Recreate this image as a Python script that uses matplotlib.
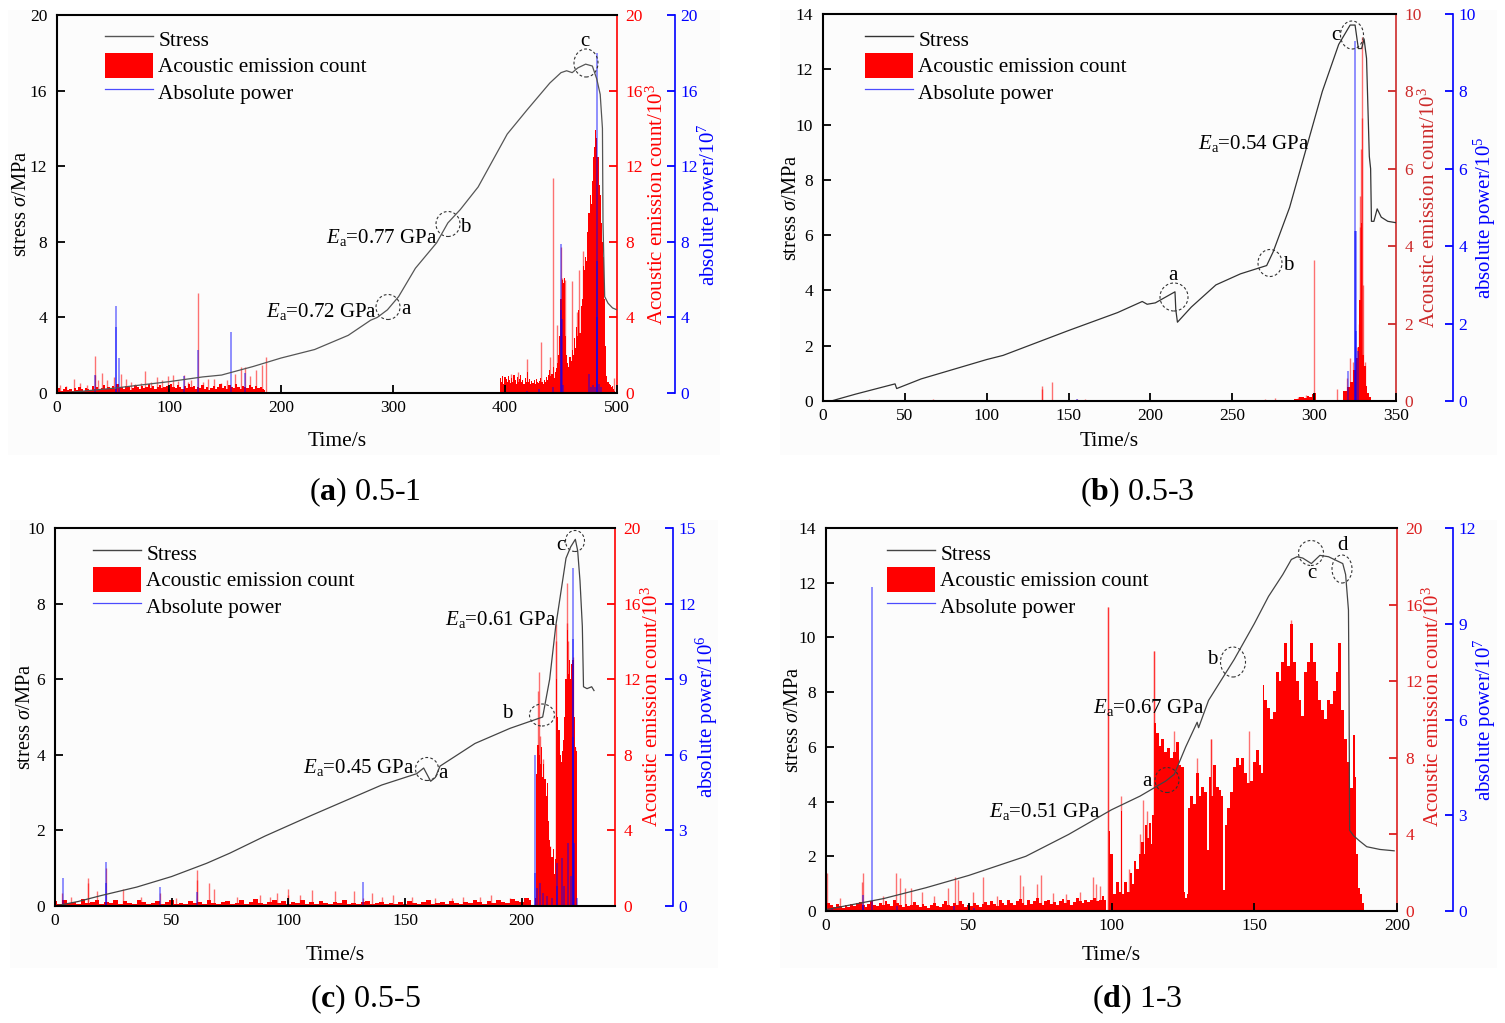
import matplotlib
matplotlib.use('Agg')
import matplotlib.pyplot as plt
from matplotlib.lines import Line2D
from matplotlib.patches import Ellipse, Patch, Rectangle

plt.rcParams['font.family'] = ['Liberation Serif', 'DejaVu Serif']
plt.rcParams['mathtext.fontset'] = 'custom'
plt.rcParams['mathtext.rm'] = 'Liberation Serif'
plt.rcParams['mathtext.it'] = 'Liberation Serif:italic'
plt.rcParams['mathtext.bf'] = 'Liberation Serif:bold'

W = 1505
H = 1023

# (a) 0.5-1
a_time = [0, 20, 50, 100, 130, 147, 150, 175, 200, 230, 260, 280, 286, 295, 305, 320, 339, 349, 360, 376, 402, 420, 440, 450, 455, 460, 465, 472, 478, 482, 485, 487, 487.5, 489, 492, 496, 500]
a_stress = [0, 0.08, 0.25, 0.6, 0.85, 0.95, 1.0, 1.4, 1.85, 2.3, 3.05, 3.85, 4.0, 4.4, 5.1, 6.6, 7.95, 9.0, 9.7, 10.9, 13.7, 15.0, 16.4, 16.95, 17.05, 16.95, 17.2, 17.4, 17.3, 16.6, 15.8, 14, 9, 5.1, 4.75, 4.5, 4.4]
a_base_v = [.15, .25, .1, .2, .3, .15, .2, .1, .25, .15, .3, .2, .1, .25, .2, .15, .35, .2, .3, .15, .25, .4, .2, .3, .25, .35, .2, .45, .25, .3, .2, .35, .3, .15, .25, .4, .3, .2, .35, .25, .3, .45, .25, .35, .2, .3, .4, .25, .3, .35, .2, .45, .3, .25, .4, .3, .2, .35, .25, .45, .3, .35, .2, .3, .25, .4, .2, .3, .15, .25, .35, .2, .3, .45, .25, .35, .2, .4, .3, .25, .45, .3, .2, .35, .3, .25, .4, .3, .2, .35, .25, .3, .2, .15]
a_dense_v = [0, .8, .6, .9, .5, .85, .75, .6, .9, .7, .55, .8, .6, .95, .7, .5, .85, .6, .75, .95, .6, .7, .5, .8, .6, 1.1, .6, .75, .5, .65, .55, .7, .5, .75, .6, .55, .65, .8, .6, .5, .7, .6, .85, .7, .95, 1.2, .9, 1, 1.4, .8, 1.1, 1.3, 1.6, 2, 3, 5, 6, 5.8, 6.1, 3, 2, 1.6, 1.4, 1.9, 1.7, 2.3, 2, 2.9, 2.4, 3.5, 3, 4.4, 3.2, 4.6, 5, 6.7, 6.5, 7.2, 7, 8.5, 9.5, 10.5, 10, 11.2, 12.5, 13, 13.9, 13.5, 12.5, 11, 10.5, 9, 8, 7.2, 5, 2.5, .9, .6, .5, .4, .3, .35, .2, .1, .05, 0]
a_spike_t = [3, 8, 15.5, 20.5, 27, 34, 34, 37, 40, 45, 51, 57, 61.6, 66, 70, 75, 78.6, 84, 89, 94, 99.5, 103.5, 108, 113.6, 117, 120, 126.2, 130, 135, 140, 146, 152, 159, 164, 168, 172, 177.5, 183, 186.5, 405, 412, 420, 432, 440, 443, 446, 450, 451, 452, 454, 460, 464, 466, 470, 497]
a_spike_v = [0.4, 0.35, 0.72, 0.55, 0.4, 1.96, 0.95, 0.7, 1.05, 0.7, 0.83, 0.98, 0.72, 0.6, 0.5, 0.55, 1.18, 0.6, 0.83, 0.7, 0.9, 0.95, 0.65, 0.95, 0.6, 0.7, 5.3, 0.6, 0.75, 0.72, 0.55, 0.7, 1.0, 1.4, 1.4, 0.9, 1.2, 1.5, 1.9, 1.0, 1.1, 1.8, 2.7, 1.9, 11.4, 3.6, 7.7, 6.1, 5.5, 6, 5.9, 4.3, 6.5, 7.5, 0.8]
a_power_t = [34, 53, 53, 55, 113.6, 126, 155.5, 168, 420, 430, 443, 450, 450, 451, 452, 475, 477, 479, 480, 482, 482, 482.5, 484, 486]
a_power_v = [0.95, 4.6, 3.5, 1.85, 0.9, 2.3, 3.25, 1.05, 0.1, 0.2, 0.3, 7.9, 4.4, 3.9, 0.4, 1, 0.3, 0.4, 0.3, 18, 7, 4, 0.5, 0.3]

# (b) 0.5-3
b_time = [0, 5, 8, 20, 44, 45, 60, 80, 100, 110, 130, 150, 180, 195, 198, 203, 215, 215.5, 216.5, 225, 240, 255, 271, 275, 285, 295, 305, 315, 322, 325, 327, 329, 330.5, 332, 333.7, 334.5, 335, 336.5, 338.5, 341, 345, 350]
b_stress = [0, 0, 0.05, 0.25, 0.62, 0.45, 0.8, 1.15, 1.5, 1.65, 2.1, 2.55, 3.2, 3.6, 3.5, 3.55, 3.95, 3.3, 2.85, 3.4, 4.2, 4.6, 4.9, 5.4, 7, 9.1, 11.2, 12.9, 13.6, 13.6, 12.75, 12.75, 13.1, 12.4, 8.85, 8.4, 6.5, 6.5, 6.95, 6.65, 6.5, 6.45]
b_dense_t = [280, 285, 290, 292, 295, 296, 298, 299, 300, 302, 305, 310, 316, 319, 321, 323, 325, 326, 327, 328, 329, 330, 331, 332, 333, 334, 335]
b_dense_v = [0, 0.03, 0.06, 0.1, 0.08, 0.12, 0.1, 0.18, 0.2, 0.03, 0.02, 0.02, 0.03, 0.25, 0.35, 0.5, 0.8, 1.1, 1.4, 2.6, 4.6, 1.2, 0.9, 0.4, 0.2, 0.1, 0]
b_spike_t = [28, 67, 134, 134, 140, 155, 160, 270, 276, 290, 295, 300, 300, 314, 320, 322, 324, 326, 327.5, 328, 328.3, 328.6, 329, 329, 330, 331]
b_spike_v = [0.04, 0.04, 0.4, 0.3, 0.5, 0.05, 0.04, 0.05, 0.07, 0.1, 0.15, 3.65, 0.2, 0.3, 0.6, 1.1, 1, 1.4, 2, 4.5, 5.3, 6.5, 9.4, 7.3, 3, 1]
b_power_t = [155, 320.4, 325, 325, 325.3, 325.6, 326.5]
b_power_v = [0.04, 0.78, 9.3, 4.4, 4.4, 1.8, 1.3]

# (c) 0.5-5
c_time = [0, 10, 20, 35, 50, 65, 75, 90, 110, 125, 140, 155, 158, 161, 163, 165, 180, 195, 209, 212, 214.6, 219, 221, 223, 224, 225, 226, 226.5, 228, 230, 231]
c_stress = [0, 0.12, 0.28, 0.5, 0.78, 1.13, 1.4, 1.85, 2.4, 2.8, 3.2, 3.5, 3.65, 3.3, 3.4, 3.7, 4.3, 4.7, 5, 6, 7.4, 9.2, 9.5, 9.7, 9.4, 8.6, 7.4, 5.8, 5.75, 5.8, 5.7]
c_base_v = [.25, .1, .3, .15, .2, .1, .35, .15, .2, .3, .1, .2, .15, .3, .1, .25, .15, .1, .3, .2, .1, .15, .25, .1, .2, .3, .1, .15, .1, .25, .15, .2, .1, .3, .15, .1, .2, .25, .1, .15, .3, .1, .2, .35, .15, .1, .2, .3, .15, .25, .1, .2, .15, .3, .1, .2, .1, .25, .15, .1, .2, .15, .3, .1, .15, .1, .2, .25, .1, .15, .2, .1, .15, .1, .2, .1, .25, .15, .1, .2, .3, .1, .15, .2, .1, .25, .15, .1, .2, .15, .3, .2, .1, .25, .15, .3, .2, .15, .35, .25, .2, .4, .3]
c_dense_v = [0, 0.4, 7, 8.5, 8, 7.5, 8.4, 6.8, 7.5, 6.7, 5.8, 6.5, 4.5, 3.5, 3.1, 2.6, 3, 1.7, 2.5, 12, 10, 9.3, 8, 7.6, 8.2, 8.8, 10, 12, 14.6, 12.3, 13, 12, 12.8, 13, 10, 8.4, 8.2, 0]
c_spike_t = [3, 7, 14, 14, 18, 22, 29, 37, 45, 52, 61, 61, 66, 68, 78, 88, 92, 95, 100, 100, 105, 110, 120, 128, 132, 136, 140, 145, 153, 163, 170, 175, 182, 187, 195, 207, 207.5, 208, 209, 212, 214.6, 214.6, 219.3, 219.3, 220, 221.8, 223]
c_spike_v = [0.7, 0.5, 1.5, 1.2, 0.8, 2, 0.9, 0.5, 0.7, 0.4, 1.9, 1.4, 1.2, 0.9, 0.5, 0.6, 0.5, 0.7, 0.9, 0.6, 0.6, 0.85, 0.8, 0.8, 0.4, 0.7, 0.45, 0.6, 0.5, 0.4, 0.4, 0.5, 0.45, 0.6, 0.4, 11.4, 12.4, 9, 7.8, 3.2, 14.9, 14, 17.1, 15, 14, 13.2, 8.4]
c_power_t = [3.4, 22, 22, 45, 61, 100, 132, 205.7, 205.7, 206.7, 208, 209, 211, 213, 215, 215, 217.4, 218, 220, 221, 222, 222, 222, 222.5, 223.6]
c_power_v = [1.1, 1.75, 0.9, 0.75, 0.55, 0.2, 0.95, 6, 1.3, 0.7, 0.9, 0.5, 0.4, 0.3, 1.7, 0.8, 1.9, 0.8, 2.5, 1.2, 13.4, 10.6, 6.7, 2.5, 0.3]

# (d) 1-3
d_time = [0, 20, 35, 50, 70, 85, 100, 110, 119, 122, 126, 130, 130.5, 134, 143, 150, 155, 160, 163, 165, 167, 170, 173, 176, 178, 181, 182, 183, 183.2, 183.4, 184.8, 187, 189.4, 194, 199]
d_stress = [0.05, 0.45, 0.85, 1.3, 2, 2.8, 3.7, 4.2, 4.75, 5, 6, 6.9, 6.7, 7.7, 9.2, 10.5, 11.5, 12.3, 12.85, 12.95, 12.9, 12.7, 13, 12.95, 12.85, 12.7, 12.3, 11, 8, 2.95, 2.75, 2.55, 2.35, 2.25, 2.2]
d_base_v = [.6, .4, .3, .2, .35, .25, .15, .3, .2, .35, .25, .4, .45, .3, .2, .35, .5, .3, .25, .4, .3, .5, .35, .25, .6, .4, .3, .2, .35, .25, .3, .45, .3, .2, .35, .25, .15, .3, .4, .25, .2, .35, .5, .3, .25, .4, .3, .5, .35, .2, .3, .25, .4, .3, .2, .35, .45, .3, .5, .35, .25, .6, .4, .3, .55, .4, .3, .5, .65, .4, .3, .55, .35, .5, .7, .4, .3, .5, .6, .35, .45, .3, .5, .65, .4, .55, .3, .45, .7, .5, .4, .6, .45, .55, .7, .5, .6, .8, .6]
d_dense_t = [99, 100, 101, 102, 103, 103.5, 104, 105, 106, 107, 107.5, 108, 109, 110, 111, 111.5, 112, 113, 113.5, 114, 114.5, 115, 116, 117, 118, 119, 120, 121, 122, 123, 124, 125, 125.5, 126, 126.8, 127, 128, 129, 130, 131, 132, 133, 134, 134.5, 135, 136, 137, 138, 139, 139.2, 140, 141, 142, 143, 144, 145, 146, 147, 148, 149, 150, 151, 152, 152.8, 153, 154, 155, 156, 157, 158, 159, 160, 161, 162, 163, 164, 165, 166, 167, 168, 169, 170, 171, 172, 173, 174, 175, 176, 177, 178, 179, 180, 181, 182, 183, 184, 185, 185.5, 186, 186.5, 187.5, 188, 189]
d_dense_v = [4.2, 3, 0.9, 1.5, 1, 5.2, 0.9, 1.5, 1, 2, 1.4, 2.6, 2.2, 3, 3.6, 3, 4.5, 3.8, 4.6, 3.5, 5, 9.8, 9.3, 8.6, 9, 8.3, 8.5, 8, 8.3, 8.8, 7.6, 7.5, 1, 0.7, 0.9, 5.4, 6, 5.6, 7.2, 6, 6.5, 6.2, 3.2, 7, 6, 7.6, 6.5, 6.3, 6, 1.1, 4.5, 5.4, 6.2, 7.5, 8, 7.6, 8, 7.2, 6.7, 6.8, 7.8, 8.4, 7.6, 7.2, 11.8, 11, 10.6, 10, 10.4, 12.5, 12, 13, 14, 12.8, 15, 13, 12, 11, 10.2, 12.5, 13, 14, 13, 12, 11, 10.5, 10, 11, 10.8, 11.5, 12.5, 14, 10.5, 9, 7.8, 6.4, 9.2, 7, 3, 1.2, 0.9, 0.4, 0]
d_spike_t = [0.5, 5, 12.5, 13, 20, 24.4, 26, 27.7, 29.6, 33.7, 38, 42.6, 45.3, 46.4, 51.5, 55, 60, 67.9, 69, 74, 75.3, 79.4, 84, 89, 93.5, 94.5, 96, 98.8, 98.8, 103.3, 106, 110, 111, 112.5, 114.8, 114.8, 122, 130, 135, 135, 148, 163]
d_spike_v = [2, 0.7, 1.5, 2, 0.8, 2, 1.7, 1.2, 1.2, 1, 0.8, 1.2, 1.8, 1.6, 1, 1.8, 0.8, 1.9, 1.3, 1.4, 1.9, 0.95, 0.9, 1, 1.8, 1.4, 1.3, 15.9, 15.9, 6, 2.2, 4, 5.8, 5.2, 13.6, 13.6, 9.4, 8, 9, 9, 9.4, 15.2]
d_power_t = [2, 13, 13, 16.2, 25, 45, 52]
d_power_v = [0.08, 0.5, 0.2, 10.15, 0.15, 0.15, 0.1]

a_yticks = [0, 4, 8, 12, 16, 20]
b_yticks = [0, 2, 4, 6, 8, 10, 12, 14]
c_yticks = [0, 2, 4, 6, 8, 10]
ae_ticks_20 = [0, 4, 8, 12, 16, 20]
ae_ticks_10 = [0, 2, 4, 6, 8, 10]
power_ticks_c = [0, 3, 6, 9, 12, 15]
power_ticks_d = [0, 3, 6, 9, 12]


def steps(start, dt, values):
    return [start + i * dt for i in range(len(values))]


panels = [
    dict(box=(57, 15, 617, 393), blue_x=675, bg=(8, 10, 720, 455),
         time=a_time, stress=a_stress, base=(steps(0, 2, a_base_v), a_base_v),
         fill=(steps(395, 1, a_dense_v), a_dense_v), spike=(a_spike_t, a_spike_v), power=(a_power_t, a_power_v),
         xlim=500, xticks=[0, 100, 200, 300, 400, 500], ylim=20, yticks=a_yticks,
         ae_lim=20, ae_ticks=ae_ticks_20, p_lim=20, p_ticks=a_yticks, p_exp='7', red='#ff0000', line='#555555',
         labels=dict(left=(22, 204), red=(657, 205), blue=(709, 205), time=(337, 441)),
         legend=(105, 26.5), caption=('a', '0.5-1', 365, 492),
         notes=[('$\\mathit{E}_{\\mathrm{a}}$=0.77 GPa', 382, 238), ('$\\mathit{E}_{\\mathrm{a}}$=0.72 GPa', 321, 312), ('a', 406, 310), ('b', 465, 227), ('c', 585, 42)],
         circles=[(388, 307, 24, 25), (448, 224, 24, 25), (586, 63, 24, 28)]),
    dict(box=(823, 14, 1396, 401), blue_x=1453, bg=(780, 10, 1497, 455),
         time=b_time, stress=b_stress, base=None,
         fill=(b_dense_t, b_dense_v), spike=(b_spike_t, b_spike_v), power=(b_power_t, b_power_v),
         xlim=350, xticks=[0, 50, 100, 150, 200, 250, 300, 350], ylim=14, yticks=b_yticks,
         ae_lim=10, ae_ticks=ae_ticks_10, p_lim=10, p_ticks=ae_ticks_10, p_exp='5', red='#cc2a2a', line='#333333',
         labels=dict(left=(792, 208), red=(1429, 208), blue=(1485, 218), time=(1109, 441)),
         legend=(865, 26.5), caption=('b', '0.5-3', 1137, 492),
         notes=[('$\\mathit{E}_{\\mathrm{a}}$=0.54 GPa', 1254, 143), ('a', 1173, 275), ('b', 1288, 265), ('c', 1336, 36)],
         circles=[(1174, 297, 28, 28), (1270, 263, 24, 27), (1352, 35, 23, 28)]),
    dict(box=(55, 528, 615, 906), blue_x=673, bg=(10, 520, 718, 968),
         time=c_time, stress=c_stress, base=(steps(0, 2, c_base_v), c_base_v),
         fill=(steps(205.5, 0.5, c_dense_v), c_dense_v), spike=(c_spike_t, c_spike_v), power=(c_power_t, c_power_v),
         xlim=240, xticks=[0, 50, 100, 150, 200], ylim=10, yticks=c_yticks,
         ae_lim=20, ae_ticks=ae_ticks_20, p_lim=15, p_ticks=power_ticks_c, p_exp='6', red='#ff0000', line='#444444',
         labels=dict(left=(26, 717), red=(652, 707), blue=(707, 717), time=(335, 955)),
         legend=(93, 540.5), caption=('c', '0.5-5', 365, 999),
         notes=[('$\\mathit{E}_{\\mathrm{a}}$=0.45 GPa', 359, 768), ('$\\mathit{E}_{\\mathrm{a}}$=0.61 GPa', 501, 619), ('a', 443, 773), ('b', 507, 713), ('c', 561, 545)],
         circles=[(427, 769, 23, 23), (542, 715, 25, 22), (575, 541, 19, 21)]),
    dict(box=(826, 528, 1397, 911), blue_x=1453, bg=(780, 520, 1497, 968),
         time=d_time, stress=d_stress, base=(steps(0, 1, d_base_v), d_base_v),
         fill=(d_dense_t, d_dense_v), spike=(d_spike_t, d_spike_v), power=(d_power_t, d_power_v),
         xlim=200, xticks=[0, 50, 100, 150, 200], ylim=14, yticks=b_yticks,
         ae_lim=20, ae_ticks=ae_ticks_20, p_lim=12, p_ticks=power_ticks_d, p_exp='7', red='#dd1f1f', line='#444444',
         labels=dict(left=(794, 720), red=(1433, 707), blue=(1485, 720), time=(1111, 955)),
         legend=(887, 540.5), caption=('d', '1-3', 1137, 999),
         notes=[('$\\mathit{E}_{\\mathrm{a}}$=0.67 GPa', 1149, 708), ('$\\mathit{E}_{\\mathrm{a}}$=0.51 GPa', 1045, 811), ('a', 1147, 781), ('b', 1212, 659), ('c', 1312, 574), ('d', 1342, 546)],
         circles=[(1167, 780, 24, 25), (1233, 662, 25, 30), (1311, 553, 25, 25), (1342, 569, 20, 28)]),
]

fig = plt.figure(figsize=(W / 100, H / 100), dpi=100, facecolor='white')


def fx(x):
    return x / W


def fy(y):
    return 1 - y / H


def style_ticks(ax, color, size=12.5):
    ax.tick_params(axis='y', direction='in', length=5.5, width=1.3, color=color, labelcolor=color, labelsize=size, pad=4)


def draw_panel(p):
    x0, y0, x1, y1 = p['box']
    bx0, by0, bx1, by1 = p['bg']
    fig.add_artist(Rectangle((fx(bx0), fy(by1)), (bx1 - bx0) / W, (by1 - by0) / H,
                             transform=fig.transFigure, fc='#fcfcfc', ec='none', zorder=-5))

    ax = fig.add_axes([fx(x0), fy(y1), (x1 - x0) / W, (y1 - y0) / H])
    ax_ae = ax.twinx()
    ax_p = ax.twinx()
    # stress on top, then power, then the red counts
    ax.set_zorder(3)
    ax_p.set_zorder(2)
    ax_ae.set_zorder(1)
    for a in (ax, ax_p):
        a.patch.set_visible(False)

    red = p['red']
    blue = '#0000ff'

    if p['base'] is not None:
        ax_ae.fill_between(p['base'][0], 0, p['base'][1], color='#ff0000', lw=0, step='mid')
    ax_ae.fill_between(p['fill'][0], 0, p['fill'][1], color='#ff0000', lw=0, step='mid')
    ax_ae.vlines(p['spike'][0], 0, p['spike'][1], color='#ff0000', lw=1.0, alpha=0.55)
    ax_p.vlines(p['power'][0], 0, p['power'][1], color=blue, lw=1.1, alpha=0.55)
    ax.plot(p['time'], p['stress'], color=p['line'], lw=0.9)

    ax.set_xlim(0, p['xlim'])
    ax.set_ylim(0, p['ylim'])
    ax_ae.set_ylim(0, p['ae_lim'])
    ax_p.set_ylim(0, p['p_lim'])
    ax.set_xticks(p['xticks'])
    ax.set_yticks(p['yticks'])
    ax_ae.set_yticks(p['ae_ticks'])
    ax_p.set_yticks(p['p_ticks'])

    ax.tick_params(axis='x', direction='in', length=5.5, width=1.3, labelsize=12.5, pad=5)
    style_ticks(ax, 'black')
    ax.tick_params(axis='y', pad=7)
    style_ticks(ax_ae, red)
    ax_ae.tick_params(axis='y', pad=6)
    style_ticks(ax_p, blue)
    ax_p.tick_params(axis='y', pad=4)

    for a in (ax, ax_ae, ax_p):
        for s in a.spines.values():
            s.set_visible(False)
    for side in ('left', 'top', 'bottom'):
        ax.spines[side].set_visible(True)
        ax.spines[side].set_linewidth(1.5)
    ax_ae.spines['right'].set_visible(True)
    ax_ae.spines['right'].set_color(red)
    ax_ae.spines['right'].set_linewidth(1.2)
    ax_p.spines['right'].set_visible(True)
    ax_p.spines['right'].set_color(blue)
    ax_p.spines['right'].set_linewidth(1.2)
    ax_p.spines['right'].set_position(('outward', (p['blue_x'] - x1) * 0.72))

    lab = p['labels']
    fig.text(fx(lab['left'][0]), fy(lab['left'][1]), 'stress $\\mathit{\\sigma}$/MPa', rotation=90,
             ha='center', va='center', fontsize=14.7)
    fig.text(fx(lab['red'][0]), fy(lab['red'][1]), 'Acoustic emission count/10$^{3}$', rotation=90,
             ha='center', va='center', fontsize=15, color=red)
    fig.text(fx(lab['blue'][0]), fy(lab['blue'][1]), 'absolute power/10$^{%s}$' % p['p_exp'], rotation=90,
             ha='center', va='center', fontsize=15, color=blue)
    fig.text(fx(lab['time'][0]), fy(lab['time'][1]), 'Time/s', ha='center', va='center', fontsize=15.5)

    handles = [Line2D([], [], color=p['line'], lw=1.0),
               Patch(fc='#ff0000', ec='none'),
               Line2D([], [], color=blue, lw=0.9, alpha=0.7)]
    lx, ly = p['legend']
    leg = ax.legend(handles, ['Stress', 'Acoustic emission count', 'Absolute power'],
                    loc='upper left', bbox_to_anchor=(fx(lx), fy(ly)), bbox_transform=fig.transFigure,
                    frameon=False, fontsize=15.3, handlelength=2.26, handleheight=1.43, handletextpad=0.25,
                    labelspacing=0.07, borderaxespad=0, borderpad=0)
    leg.set_zorder(10)

    for text, px, py in p['notes']:
        fig.text(fx(px), fy(py), text, ha='center', va='center', fontsize=15, zorder=20)

    px_x = (x1 - x0) / p['xlim']
    px_y = (y1 - y0) / p['ylim']
    for cx, cy, w, h in p['circles']:
        ax.add_patch(Ellipse(((cx - x0) / px_x, (y1 - cy) / px_y), w / px_x, h / px_y, fill=False,
                             ec='#333333', lw=0.8, ls=(0, (2.5, 2)), clip_on=False))

    letter, name, cap_x, cap_y = p['caption']
    fig.text(fx(cap_x), fy(cap_y), '($\\mathbf{%s}$) %s' % (letter, name), ha='center', va='center', fontsize=23)


for panel in panels:
    draw_panel(panel)

fig.savefig('out.png', dpi=100)
